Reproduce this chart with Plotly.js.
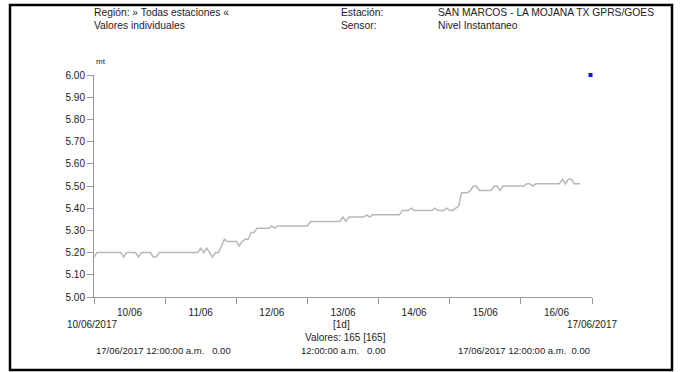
<!DOCTYPE html>
<html>
<head>
<meta charset="utf-8">
<script src="https://cdn.plot.ly/plotly-3.0.1.min.js"></script>
<style>
html,body{margin:0;padding:0;background:#fff;}
#chart{width:681px;height:372px;}
</style>
</head>
<body>
<div id="chart"></div>
<script>
// ---- data (hourly readings, mt) ----
const startTime = '2017-06-10T00:00:00';
const day1 = [5.18,5.20,5.20,5.20,5.20,5.20,5.20,5.20,5.20,5.20,5.18,5.20,5.20,5.20,5.20,5.18,5.20,5.20,5.20,5.20,5.18,5.18,5.20,5.20];
const day2 = [5.20,5.20,5.20,5.20,5.20,5.20,5.20,5.20,5.20,5.20,5.20,5.20,5.22,5.20,5.22,5.20,5.18,5.20,5.20,5.23,5.26,5.25,5.25,5.25];
const day3 = [5.25,5.23,5.25,5.26,5.26,5.29,5.29,5.31,5.31,5.31,5.31,5.31,5.32,5.31,5.32,5.32,5.32,5.32,5.32,5.32,5.32,5.32,5.32,5.32];
const day4 = [5.32,5.34,5.34,5.34,5.34,5.34,5.34,5.34,5.34,5.34,5.34,5.34,5.36,5.34,5.36,5.36,5.36,5.36,5.36,5.36,5.37,5.36,5.37,5.37];
const day5 = [5.37,5.37,5.37,5.37,5.37,5.37,5.37,5.37,5.39,5.39,5.39,5.40,5.39,5.39,5.39,5.39,5.39,5.39,5.39,5.40,5.39,5.39,5.39,5.40];
const day6 = [5.39,5.39,5.40,5.41,5.47,5.47,5.47,5.48,5.50,5.50,5.48,5.48,5.48,5.48,5.48,5.50,5.50,5.48,5.50,5.50,5.50,5.50,5.50,5.50];
const day7 = [5.50,5.50,5.51,5.51,5.50,5.51,5.51,5.51,5.51,5.51,5.51,5.51,5.51,5.51,5.53,5.51,5.53,5.53,5.51,5.51,5.51];
const levels = [].concat(day1, day2, day3, day4, day5, day6, day7);

const markerTime = ['2017-06-16 23:30'];
const markerValue = [6.00];

const xRange = ['2017-06-10 00:00', '2017-06-17 00:00'];
const yRange = [5.0, 6.0];

const headerLeft = ['Región: » Todas estaciones «', 'Valores individuales'];
const headerMid = ['Estación:', 'Sensor:'];
const headerRight = ['SAN MARCOS - LA MOJANA TX GPRS/GOES', 'Nivel Instantaneo'];
const unitLabel = 'mt';
const footStart = '10/06/2017';
const footEnd = '17/06/2017';
const footStep = '[1d]';
const footCount = 'Valores: 165 [165]';
const footStats = ['17/06/2017 12:00:00 a.m.   0.00', '12:00:00 a.m.   0.00', '17/06/2017 12:00:00 a.m.  0.00'];

// ---- build ----
const t0 = new Date(startTime + 'Z').getTime();
function fmt(ms){
  const d = new Date(ms);
  const p = n => String(n).padStart(2,'0');
  return d.getUTCFullYear()+'-'+p(d.getUTCMonth()+1)+'-'+p(d.getUTCDate())+' '+p(d.getUTCHours())+':'+p(d.getUTCMinutes());
}
const times = levels.map((v,i)=>fmt(t0 + i*3600000));

const W = 681, H = 372;
const L = 94, R = 89, T = 75, B = 75;
const pw = W - L - R, ph = H - T - B;
const px = x => (x - L) / pw;
const py = y => (H - B - y) / ph;

const FONT = "'Liberation Sans', Arial, sans-serif";
const TXT = '#222';

function ann(text, x, y, xanchor, size){
  return {text: text, xref:'paper', yref:'paper', x: px(x), y: py(y), xanchor: xanchor, yanchor:'middle',
    showarrow:false, borderpad:0, font:{family:FONT, size:size||10, color:TXT}};
}

const annotations = [
  ann(headerLeft[0], 93, 13, 'left', 10.3),
  ann(headerLeft[1], 93, 25, 'left', 10.3),
  ann(headerMid[0], 340, 13, 'left', 10.3),
  ann(headerMid[1], 340, 25, 'left', 10.3),
  ann(headerRight[0], 437, 13, 'left', 10.3),
  ann(headerRight[1], 437, 25, 'left', 10.3),
  ann(unitLabel, 95, 62, 'left', 8),
  ann(footStart, 92, 324, 'center', 10),
  ann(footStep, 341, 324, 'center', 10),
  ann(footEnd, 592, 324, 'center', 10),
  ann(footCount, 345, 337, 'center', 10),
  ann(footStats[0], 95, 350, 'left', 9.5),
  ann(footStats[1], 300, 350, 'left', 9.5),
  ann(footStats[2], 457, 350, 'left', 9.5)
];

const shapes = [{
  type:'rect', xref:'paper', yref:'paper',
  x0: px(10), x1: px(672), y0: py(370), y1: py(5),
  line:{color:'#000', width:2.5}, fillcolor:'rgba(0,0,0,0)'
}];

const traces = [
  {x: times, y: levels, type:'scatter', mode:'lines',
   line:{color:'#b8b8b8', width:1.5}, hoverinfo:'x+y'},
  {x: markerTime, y: markerValue, type:'scatter', mode:'markers',
   marker:{symbol:'square', size:4, color:'#1414ff'}, cliponaxis:false}
];

const layout = {
  width: W, height: H,
  margin:{l:L, r:R, t:T, b:B},
  paper_bgcolor:'#fff', plot_bgcolor:'#fff',
  showlegend:false,
  font:{family:FONT, size:10, color:TXT},
  xaxis:{
    type:'date', range: xRange, tick0:'2017-06-10', dtick: 86400000,
    ticklabelmode:'period', tickformat:'%d/%m',
    ticks:'outside', ticklen:6, tickcolor:'#999', tickwidth:1,
    showline:true, linecolor:'#999', linewidth:1,
    showgrid:false, zeroline:false,
    tickfont:{family:FONT, size:10, color:TXT}
  },
  yaxis:{
    range: yRange, dtick:0.1, tick0:5, tickformat:'.2f',
    ticks:'outside', ticklen:6, tickcolor:'#999', tickwidth:1,
    showline:true, linecolor:'#999', linewidth:1,
    showgrid:false, zeroline:false,
    tickfont:{family:FONT, size:10, color:TXT}
  },
  annotations: annotations,
  shapes: shapes
};

Plotly.newPlot('chart', traces, layout, {staticPlot:true, displayModeBar:false});
</script>
</body>
</html>
